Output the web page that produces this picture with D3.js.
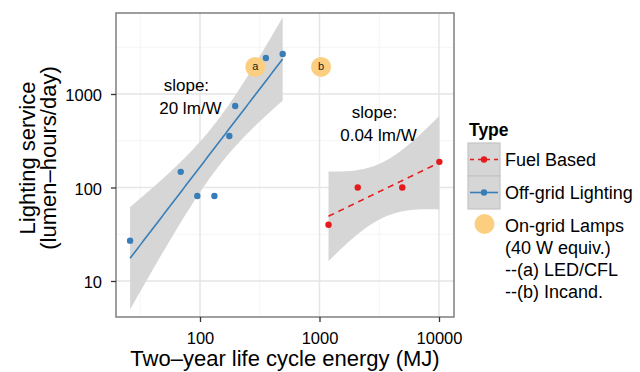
<!DOCTYPE html>
<html>
<head>
<meta charset="utf-8">
<script src="https://cdn.jsdelivr.net/npm/d3@7/dist/d3.min.js"></script>
<style>
  body { margin: 0; background: #fff; }
  text { font-family: "Liberation Sans", Arial, Helvetica, sans-serif; }
</style>
</head>
<body>
<div id="chart"></div>
<script>
// Off-grid lighting products (energy MJ, service lumen-hours/day)
var offgridEnergy  = [26, 69, 95, 132, 176, 197, 356, 492];
var offgridService = [27, 147, 81, 81, 356, 744, 2430, 2680];

// Fuel based lamps
var fuelEnergy  = [1190, 2090, 4930, 10070];
var fuelService = [40, 100, 100, 188];

// On-grid lamps (40 W equiv.)
var ongridEnergy  = [290, 1030];
var ongridService = [1950, 1950];
var ongridLabels  = ["a", "b"];

// axis ticks
var xTicks = [100, 1000, 10000];
var yTicks = [10, 100, 1000];

// slope annotations
var annoText = [["slope:", "20 lm/W"], ["slope:", "0.04 lm/W"]];
var annoX = [80, 3000];
var annoY = [940, 480];

var legendLabels = ["Fuel Based", "Off-grid Lighting"];
var ongridLegend = ["On-grid Lamps", "(40 W equiv.)", "--(a) LED/CFL", "--(b) Incand."];

var colBlue = "#377eb8", colRed = "#e41a1c", colOrange = "#fbcf7f";
var bandFill = "#d6d6d6";

// Chart dimensions
var w = 640, h = 372;
var panel = {left: 116, right: 454, top: 13, bottom: 317};

var svg = d3.select("#chart").append("svg")
    .attr("width", w).attr("height", h);

var x = d3.scaleLog().domain([19.82, 13354]).range([panel.left, panel.right]);
var y = d3.scaleLog().domain([4.12, 7351]).range([panel.bottom, panel.top]);

// minor breaks halfway between decades (log space)
var minor = [1.5, 2.5, 3.5].map(function(e) { return Math.pow(10, e); });

var grid = svg.append("g");
grid.selectAll(".xminor").data(minor).enter().append("line")
    .attr("x1", x).attr("x2", x).attr("y1", panel.top).attr("y2", panel.bottom)
    .attr("stroke", "#f5f5f5").attr("stroke-width", 1);
grid.selectAll(".yminor").data(minor).enter().append("line")
    .attr("y1", y).attr("y2", y).attr("x1", panel.left).attr("x2", panel.right)
    .attr("stroke", "#f5f5f5").attr("stroke-width", 1);
grid.selectAll(".xmajor").data(xTicks).enter().append("line")
    .attr("x1", x).attr("x2", x).attr("y1", panel.top).attr("y2", panel.bottom)
    .attr("stroke", "#e5e5e5").attr("stroke-width", 1.5);
grid.selectAll(".ymajor").data(yTicks).enter().append("line")
    .attr("y1", y).attr("y2", y).attr("x1", panel.left).attr("x2", panel.right)
    .attr("stroke", "#e5e5e5").attr("stroke-width", 1.5);

// linear fit in log-log space with 95% confidence band (like stat_smooth(method="lm"))
function lmFit(xs, ys, tq) {
    var lx = xs.map(Math.log10), ly = ys.map(Math.log10);
    var n = lx.length, mx = d3.mean(lx), my = d3.mean(ly);
    var sxx = 0, sxy = 0;
    for (var i = 0; i < n; i++) {
        sxx += (lx[i] - mx) * (lx[i] - mx);
        sxy += (lx[i] - mx) * (ly[i] - my);
    }
    var b = sxy / sxx, a = my - b * mx;
    var ssr = 0;
    for (var i = 0; i < n; i++) {
        var r = ly[i] - (a + b * lx[i]);
        ssr += r * r;
    }
    var s = Math.sqrt(ssr / (n - 2));
    var lo = d3.min(lx), hi = d3.max(lx), out = [];
    for (var k = 0; k < 80; k++) {
        var xv = lo + (hi - lo) * k / 79;
        var fit = a + b * xv;
        var se = s * Math.sqrt(1 / n + (xv - mx) * (xv - mx) / sxx);
        out.push({x: Math.pow(10, xv), y: Math.pow(10, fit),
                  lo: Math.pow(10, fit - tq * se), hi: Math.pow(10, fit + tq * se)});
    }
    return out;
}
// t quantiles 0.975: df=6 -> 2.447, df=2 -> 4.303
var offFit = lmFit(offgridEnergy, offgridService, 2.4469);
var fuelFit = lmFit(fuelEnergy, fuelService, 4.3027);

var area = d3.area().x(function(d) { return x(d.x); })
    .y0(function(d) { return y(d.lo); }).y1(function(d) { return y(d.hi); });
var line = d3.line().x(function(d) { return x(d.x); }).y(function(d) { return y(d.y); });

svg.append("clipPath").attr("id", "clip").append("rect")
    .attr("x", panel.left).attr("y", panel.top)
    .attr("width", panel.right - panel.left).attr("height", panel.bottom - panel.top);
var plot = svg.append("g").attr("clip-path", "url(#clip)");

plot.append("path").datum(offFit).attr("d", area).attr("fill", bandFill);
plot.append("path").datum(fuelFit).attr("d", area).attr("fill", bandFill);
plot.append("path").datum(offFit).attr("d", line).attr("fill", "none")
    .attr("stroke", colBlue).attr("stroke-width", 1.6);
plot.append("path").datum(fuelFit).attr("d", line).attr("fill", "none")
    .attr("stroke", colRed).attr("stroke-width", 1.6).attr("stroke-dasharray", "6,5");

plot.selectAll(".off").data(offgridEnergy).enter().append("circle")
    .attr("cx", function(d) { return x(d); })
    .attr("cy", function(d, i) { return y(offgridService[i]); })
    .attr("r", 3.2).attr("fill", colBlue);
plot.selectAll(".fuel").data(fuelEnergy).enter().append("circle")
    .attr("cx", function(d) { return x(d); })
    .attr("cy", function(d, i) { return y(fuelService[i]); })
    .attr("r", 3.2).attr("fill", colRed);

plot.selectAll(".grid-lamp").data(ongridEnergy).enter().append("circle")
    .attr("cx", function(d) { return x(d); })
    .attr("cy", function(d, i) { return y(ongridService[i]); })
    .attr("r", 10).attr("fill", colOrange);
plot.selectAll(".grid-lab").data(ongridEnergy).enter().append("text")
    .attr("x", function(d) { return x(d); })
    .attr("y", function(d, i) { return y(ongridService[i]) + 3.5; })
    .attr("text-anchor", "middle").attr("font-size", "11px").attr("fill", "#222")
    .text(function(d, i) { return ongridLabels[i]; });

// slope annotations
annoText.forEach(function(lines, i) {
    var cx = x(annoX[i]), cy = y(annoY[i]);
    svg.append("text").attr("x", cx - 2).attr("y", cy - 5.5)
        .attr("text-anchor", "middle").attr("font-size", "17px").text(lines[0]);
    svg.append("text").attr("x", cx + 2).attr("y", cy + 17.5)
        .attr("text-anchor", "middle").attr("font-size", "17px").text(lines[1]);
});

// panel border
svg.append("rect").attr("x", panel.left).attr("y", panel.top)
    .attr("width", panel.right - panel.left).attr("height", panel.bottom - panel.top)
    .attr("fill", "none").attr("stroke", "#7f7f7f").attr("stroke-width", 1.5);

// axes
var xAxis = svg.append("g").attr("transform", "translate(0," + panel.bottom + ")")
    .call(d3.axisBottom(x).tickValues(xTicks).tickFormat(d3.format("d"))
        .tickSize(5).tickPadding(10));
var yAxis = svg.append("g").attr("transform", "translate(" + panel.left + ",0)")
    .call(d3.axisLeft(y).tickValues(yTicks).tickFormat(d3.format("d"))
        .tickSize(5).tickPadding(9));
[xAxis, yAxis].forEach(function(g) {
    g.select(".domain").remove();
    g.selectAll(".tick line").attr("stroke", "#333").attr("stroke-width", 1.3);
    g.selectAll(".tick text").attr("font-size", "16.5px").attr("fill", "#000")
        .style("font-family", "'Liberation Sans', Arial, sans-serif");
});
yAxis.selectAll(".tick text").attr("dy", "0.42em");

// axis titles
svg.append("text").attr("x", (panel.left + panel.right) / 2).attr("y", 366)
    .attr("text-anchor", "middle").attr("font-size", "22px")
    .text("Two\u2013year life cycle energy (MJ)");
var ytitle = svg.append("text").attr("transform", "translate(35," + 158 + ") rotate(-90)")
    .attr("text-anchor", "middle").attr("font-size", "22px");
ytitle.append("tspan").attr("x", 0).attr("y", 0).text("Lighting service");
ytitle.append("tspan").attr("x", 0).attr("y", 20.5).text("(lumen\u2013hours/day)");

// legend
var leg = svg.append("g");
leg.append("text").attr("x", 469).attr("y", 136).attr("font-size", "17.5px")
    .attr("font-weight", "bold").text("Type");
var keyX = 468, keyW = 32, keyH = 33, keyTop = 143;
var keyCols = [colRed, colBlue], keyDash = ["4,4", null];
legendLabels.forEach(function(lab, i) {
    var ky = keyTop + i * keyH;
    leg.append("rect").attr("x", keyX).attr("y", ky).attr("width", keyW).attr("height", keyH)
        .attr("fill", bandFill).attr("stroke", "#c4c4c4").attr("stroke-width", 1.2);
    leg.append("line").attr("x1", keyX + 2).attr("x2", keyX + keyW - 2)
        .attr("y1", ky + keyH / 2).attr("y2", ky + keyH / 2)
        .attr("stroke", keyCols[i]).attr("stroke-width", 1.6)
        .attr("stroke-dasharray", keyDash[i]);
    leg.append("circle").attr("cx", keyX + keyW / 2).attr("cy", ky + keyH / 2)
        .attr("r", 3.2).attr("fill", keyCols[i]);
    leg.append("text").attr("x", 505).attr("y", ky + keyH / 2 + 6.5)
        .attr("font-size", "18px").text(lab);
});
leg.append("circle").attr("cx", 484.5).attr("cy", 224).attr("r", 10).attr("fill", colOrange);
ongridLegend.forEach(function(lab, i) {
    leg.append("text").attr("x", 505).attr("y", 231.5 + i * 22.2)
        .attr("font-size", "18px").text(lab);
});
</script>
</body>
</html>
